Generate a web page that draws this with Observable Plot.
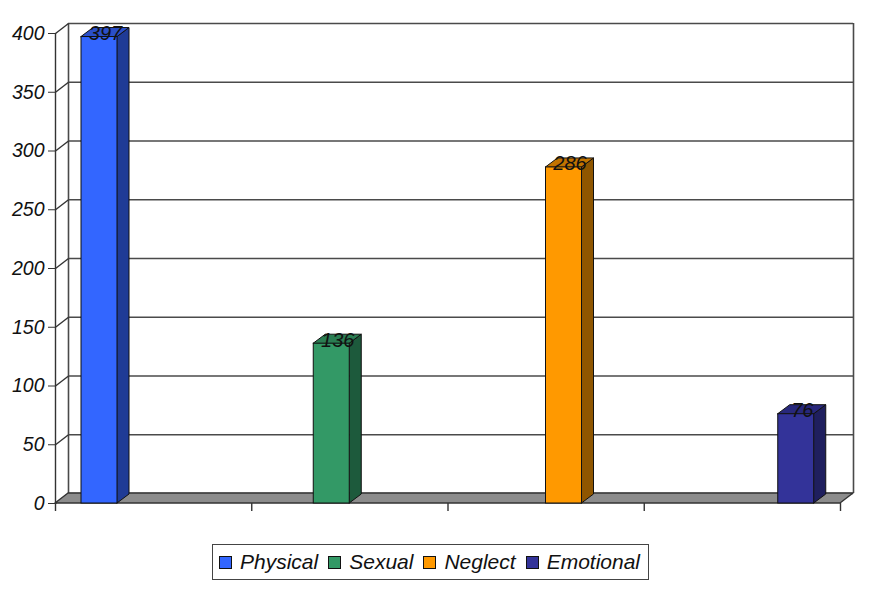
<!DOCTYPE html>
<html>
<head>
<meta charset="utf-8">
<script src="https://cdn.jsdelivr.net/npm/d3@7"></script>
<script src="https://cdn.jsdelivr.net/npm/@observablehq/plot@0.6"></script>
<style>
  html, body { margin: 0; padding: 0; background: #fff; }
  body { width: 873px; font-family: "Liberation Sans", Arial, sans-serif; }
  #legend {
    display: inline-flex; align-items: center; gap: 10px;
    margin: 14px 0 0 212px; padding: 4px 8px 4px 6px;
    border: 1.5px solid #444; font-style: italic; font-size: 21px; color: #111;
    height: 26px;
  }
  #legend .item { display: inline-flex; align-items: center; gap: 8px; }
  #legend .sw { width: 11px; height: 11px; border: 1px solid #111; display: inline-block; }
</style>
</head>
<body>
<div id="chart"></div>
<div id="legend"></div>
<script>
// ---- data ----
const series = ["Physical", "Sexual", "Neglect", "Emotional"];
const values = [397, 136, 286, 76];
const categoryIndex = [0, 1, 2, 3];
const frontColors = ["#3366ff", "#339966", "#ff9900", "#333399"];
const sideColors  = ["#1f3b96", "#1d5a3c", "#8f5600", "#1f1f5e"];
const topColors   = ["#2b4fc8", "#2a7d52", "#c27300", "#28287c"];
const yTicks = [0, 50, 100, 150, 200, 250, 300, 350, 400];
const catTicks = [0, 1, 2, 3, 4];

// ---- layout ----
const W = 873, H = 530, ML = 55, MR = 33, MT = 33, MB = 27;
const pxX = (W - ML - MR) / 4;      // px per category
const pxY = (H - MT - MB) / 400;    // px per unit
const WX = 13 / pxX, WY = 10 / pxY; // wall depth in data units
const BX = 12 / pxX, BY = 9 / pxY;  // bar depth in data units
const groupPad = 26 / pxX, barW = 36 / pxX;
const tickLen = 8 / pxY;

const bars = series.map((s, i) => {
  const left = categoryIndex[i] + groupPad + i * barW;
  return {s, i, v: values[i], left, right: left + barW};
});
const sides = bars.flatMap(b => [
  {s: b.s, i: b.i, x: b.right, y1: 0, y2: b.v},
  {s: b.s, i: b.i, x: b.right + BX, y1: BY, y2: b.v + BY}
]);
const tops = bars.flatMap(b => [
  {s: b.s, i: b.i, y: b.v, x1: b.left, x2: b.right},
  {s: b.s, i: b.i, y: b.v + BY, x1: b.left + BX, x2: b.right + BX}
]);
const floor = [
  {y: 0, x1: 0, x2: 4},
  {y: WY, x1: WX, x2: 4 + WX}
];

const lineCol = "#4a4a4a";

const chart = Plot.plot({
  width: W, height: H,
  marginLeft: ML, marginRight: MR, marginTop: MT, marginBottom: MB,
  style: {fontFamily: "Liberation Sans, Arial, sans-serif", background: "#fff", overflow: "visible"},
  x: {type: "linear", domain: [0, 4], axis: null},
  y: {type: "linear", domain: [0, 400], axis: null},
  marks: [
    // back wall gridlines
    Plot.ruleY(yTicks, {y: d => d + WY, x1: WX, x2: 4 + WX, stroke: lineCol, strokeWidth: 1.6}),
    Plot.ruleX([WX, 4 + WX], {x: d => d, y1: WY, y2: 400 + WY, stroke: lineCol, strokeWidth: 1.6}),
    // left wall: front axis line and diagonals
    Plot.ruleX([0], {x: d => d, y1: 0, y2: 400, stroke: "#333", strokeWidth: 1.4}),
    Plot.link(yTicks, {x1: 0, y1: d => d, x2: WX, y2: d => d + WY, stroke: "#333", strokeWidth: 1.4}),
    // floor
    Plot.areaX(floor, {y: "y", x1: "x1", x2: "x2", fill: "#8c8c8c", stroke: "#333", strokeWidth: 1.4}),
    // front y axis
    Plot.axisY({ticks: yTicks, tickSize: 7, tickPadding: 4, fontSize: 19.5, fontStyle: "italic", fill: "#111", stroke: "#333", label: null}),
    // category ticks
    Plot.ruleX(catTicks, {x: d => d, y1: 0, y2: -tickLen, stroke: "#333", strokeWidth: 1.4}),
    // bars: side, top, front
    Plot.areaY(sides, {x: "x", y1: "y1", y2: "y2", z: "s", fill: d => sideColors[d.i], stroke: "#111", strokeWidth: 1}),
    Plot.areaX(tops, {y: "y", x1: "x1", x2: "x2", z: "s", fill: d => topColors[d.i], stroke: "#111", strokeWidth: 1}),
    Plot.rect(bars, {x1: "left", x2: "right", y1: 0, y2: "v", fill: d => frontColors[d.i], stroke: "#111", strokeWidth: 1}),
    // value labels
    Plot.text(bars, {x: d => (d.left + d.right + BX) / 2, y: "v", text: d => String(d.v), lineAnchor: "bottom", dy: 3, fontSize: 20, fontStyle: "italic", fill: "#111"})
  ]
});
document.getElementById("chart").appendChild(chart);

const legend = document.getElementById("legend");
series.forEach((s, i) => {
  const item = document.createElement("span");
  item.className = "item";
  const sw = document.createElement("span");
  sw.className = "sw";
  sw.style.background = frontColors[i];
  const t = document.createElement("span");
  t.textContent = s;
  item.appendChild(sw); item.appendChild(t);
  legend.appendChild(item);
});
</script>
</body>
</html>
